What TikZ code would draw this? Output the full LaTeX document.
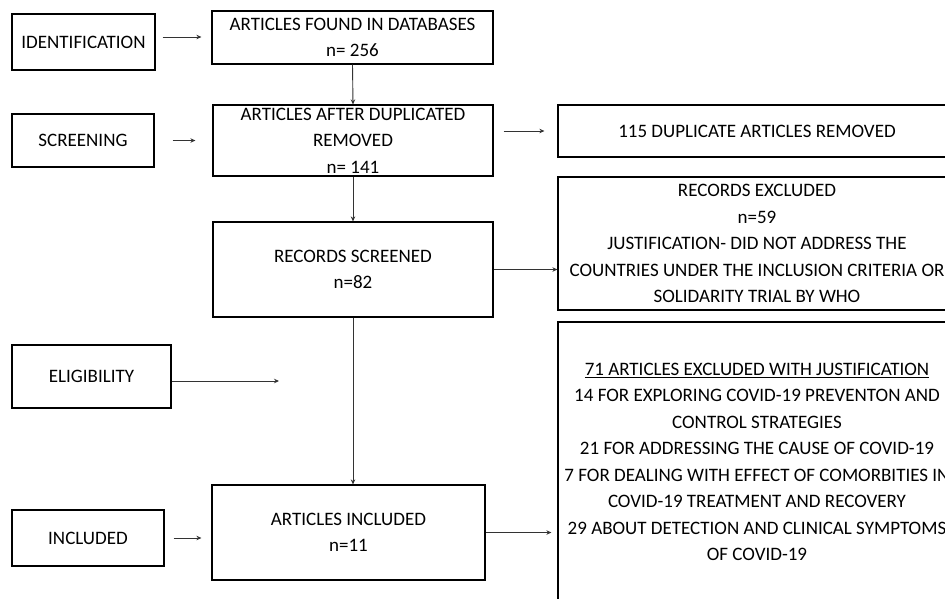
\documentclass[tikz,border=0pt]{standalone}
\usepackage{fontspec}
\setmainfont{Carlito}
\usetikzlibrary{arrows.meta}
\newcommand{\flowfont}{\fontsize{19}{26.5}\selectfont}
\begin{document}
\begin{tikzpicture}[x=1pt,y=-1pt,font=\flowfont]
        % Styles
        \tikzstyle{stage box}=[draw,line width=1.2pt,inner sep=0pt,align=center]
        \tikzstyle{flow box}=[draw,line width=1.2pt,inner sep=0pt,align=center]
        \tikzstyle{flow arrow}=[line width=0.9pt,draw=black!80,-{Stealth[length=5pt,width=4.5pt]}]
        \clip (0,0) rectangle (945,598);
        %stages on the left
        \node[stage box,minimum width=143pt,minimum height=56pt] (ident) at (83.5,42) {IDENTIFICATION};
        \node[stage box,minimum width=142pt,minimum height=53pt] (screen) at (83,140.5) {SCREENING};
        \node[stage box,minimum width=159pt,minimum height=63pt] (elig) at (91.5,376.5) {ELIGIBILITY};
        \node[stage box,minimum width=152pt,minimum height=56pt] (inclstage) at (88,538) {INCLUDED};
        %main column
        \node[flow box,minimum width=281pt,minimum height=53pt] (found) at (352.5,37.5) {ARTICLES FOUND IN DATABASES\\n= 256};
        \node[flow box,minimum width=280pt,minimum height=71pt] (dup) at (353,140.5) {ARTICLES AFTER DUPLICATED\\REMOVED\\n= 141};
        \node[flow box,minimum width=280pt,minimum height=95pt] (screened) at (353,269.5) {RECORDS SCREENED\\n=82};
        \node[flow box,minimum width=273pt,minimum height=95pt] (included) at (348.5,532.5) {ARTICLES INCLUDED\\n=11};
        %exclusions on the right
        \node[flow box,minimum width=398pt,minimum height=52pt] (removed) at (757,131) {115 DUPLICATE ARTICLES REMOVED};
        \node[flow box,minimum width=398pt,minimum height=133pt] (recexcl) at (757,243.5) {RECORDS EXCLUDED\\n=59\\JUSTIFICATION- DID NOT ADDRESS THE\\COUNTRIES UNDER THE INCLUSION CRITERIA OR\\SOLIDARITY TRIAL BY WHO};
        \node[flow box,minimum width=398pt,minimum height=280pt] (artexcl) at (757,462) {\underline{71 ARTICLES EXCLUDED WITH JUSTIFICATION}\\14 FOR EXPLORING COVID-19 PREVENTON AND\\CONTROL STRATEGIES\\21 FOR ADDRESSING THE CAUSE OF COVID-19\\7 FOR DEALING WITH EFFECT OF COMORBITIES IN\\COVID-19 TREATMENT AND RECOVERY\\29 ABOUT DETECTION AND CLINICAL SYMPTOMS\\OF COVID-19};
        \coordinate (eligend) at (279,381);
        %arrows
        \draw[flow arrow,shorten <=7pt,shorten >=10pt] ([yshift=5pt]ident.east) -- ([yshift=5pt]ident.east -| found.west);
        \draw[flow arrow,shorten <=18pt,shorten >=17pt] (screen.east) -- (screen.east -| dup.west);
        \draw[flow arrow,shorten <=9pt,shorten >=10pt] (inclstage.east) -- (inclstage.east -| included.west);
        \draw[flow arrow] (elig.east |- eligend) -- (eligend);
        \draw[flow arrow] (found.south) -- (dup.north);
        \draw[flow arrow] (dup.south) -- (screened.north);
        \draw[flow arrow] (screened.south) -- (screened.south |- included.north);
        \draw[flow arrow,shorten <=10pt,shorten >=13pt] (dup.east |- removed.west) -- (removed.west);
        \draw[flow arrow] (screened.east) -- (screened.east -| recexcl.west);
        \draw[flow arrow,shorten >=6pt] (included.east) -- (included.east -| artexcl.west);
\end{tikzpicture}
\end{document}
